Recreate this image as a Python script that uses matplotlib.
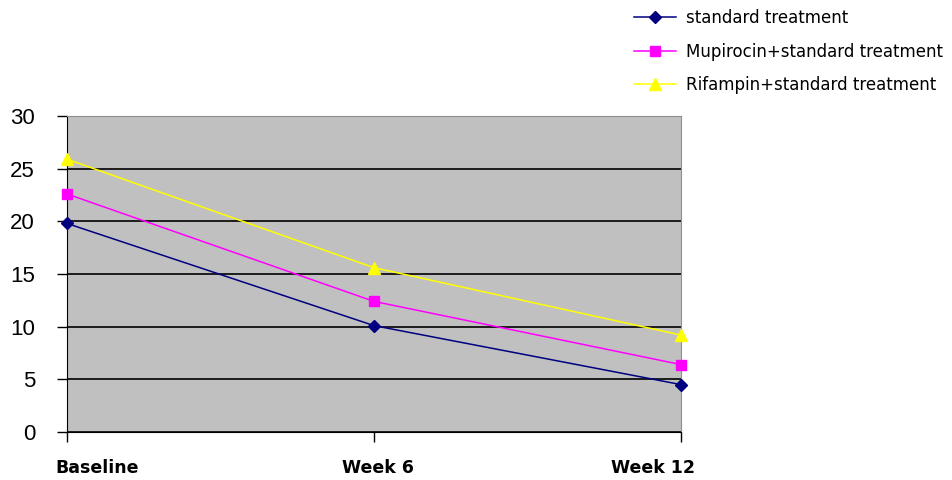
import matplotlib
matplotlib.use('Agg')
import matplotlib.pyplot as plt

# data
timepoints = ['Baseline', 'Week 6', 'Week 12']
standard = [19.8, 10.1, 4.5]
mupirocin = [22.6, 12.4, 6.4]
rifampin = [25.9, 15.6, 9.2]
series_names = ['standard treatment', 'Mupirocin+standard treatment',
                'Rifampin+standard treatment']

fig = plt.figure(figsize=(9.53, 4.8), dpi=100)
ax = fig.add_axes([0.0703, 0.1, 0.6443, 0.6583])
ax.set_facecolor('#c0c0c0')

x = range(len(timepoints))
l1, = ax.plot(x, standard, color='#000080', marker='D', markersize=6, lw=1.1, clip_on=False, zorder=5)
l2, = ax.plot(x, mupirocin, color='#ff00ff', marker='s', markersize=7, lw=1.1, clip_on=False, zorder=5)
l3, = ax.plot(x, rifampin, color='#ffff00', marker='^', markersize=8, lw=1.1, clip_on=False, zorder=5)

ax.set_xlim(0, 2)
ax.set_ylim(0, 30)
ax.set_yticks(range(0, 31, 5))
ax.yaxis.grid(True, color='black', lw=1.2)
ax.set_axisbelow(True)

# x labels sit a bit off their ticks in the original (excel spreads them)
ax.set_xticks(list(x))
ax.set_xticklabels([])
label_shift = [22, 3, -20]
for i, name in enumerate(timepoints):
    ax.annotate(name, xy=(i, 0), xycoords=('data', 'axes fraction'),
                xytext=(label_shift[i], -26), textcoords='offset points',
                ha='center', va='center', fontweight='bold', fontsize=12.5)

ax.tick_params(axis='x', length=7, width=1)
ax.tick_params(axis='y', length=7, width=1, pad=16)
for lbl in ax.get_yticklabels():
    lbl.set_fontfamily('Liberation Sans')
    lbl.set_fontsize(16)

ax.spines['left'].set_color('black')
ax.spines['bottom'].set_color('black')
ax.spines['right'].set_color('#909090')
ax.spines['top'].set_color('#909090')

fig.legend([l1, l2, l3], series_names, loc='upper left',
           bbox_to_anchor=(0.65, 1.012), frameon=False, fontsize=12,
           handlelength=2.5, labelspacing=0.93, handletextpad=0.6)

fig.savefig('out.png', dpi=100)
